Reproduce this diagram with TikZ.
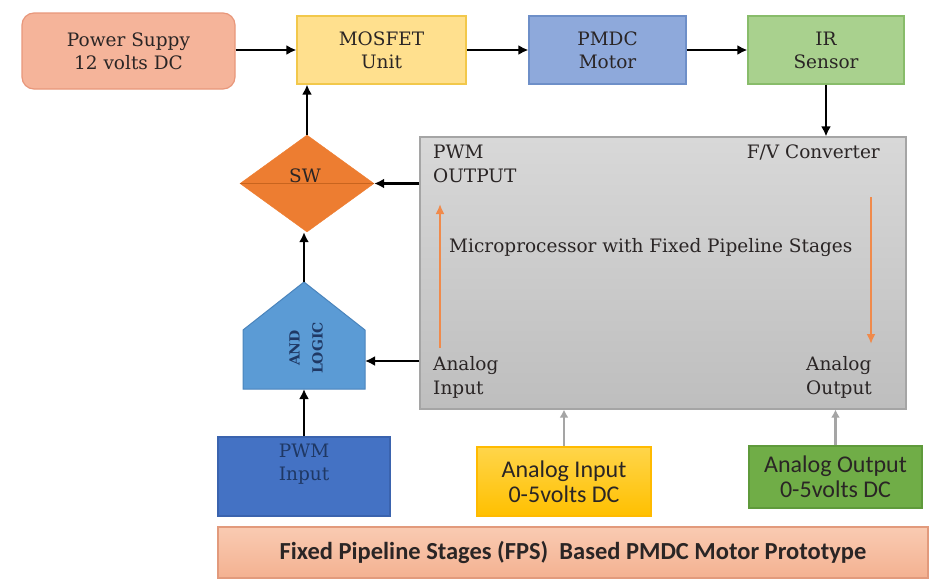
\documentclass[tikz,border=0pt]{standalone}
\usepackage{fontspec}
\setmainfont{DejaVu Serif}
\newfontfamily\calfont{Carlito}
\usepackage{xcolor}
\usepackage{tikz}
\usetikzlibrary{calc, shapes.geometric, arrows.meta}

\definecolor{psfill}{HTML}{F5B49A}
\definecolor{psline}{HTML}{E8977B}
\definecolor{mosfill}{HTML}{FFE08E}
\definecolor{mosline}{HTML}{F2C84B}
\definecolor{pmfill}{HTML}{8EA9DB}
\definecolor{pmline}{HTML}{6E8FC8}
\definecolor{irfill}{HTML}{A9D18E}
\definecolor{irline}{HTML}{88BC6A}
\definecolor{mptop}{HTML}{D8D8D8}
\definecolor{mpbot}{HTML}{BEBEBE}
\definecolor{mpline}{HTML}{A5A5A5}
\definecolor{swfill}{HTML}{ED7D31}
\definecolor{swline}{HTML}{C8641E}
\definecolor{andfill}{HTML}{5B9BD5}
\definecolor{andline}{HTML}{4A84BC}
\definecolor{pwmfill}{HTML}{4472C4}
\definecolor{pwmline}{HTML}{3A63AE}
\definecolor{aintop}{HTML}{FFD54A}
\definecolor{ainbot}{HTML}{FFC000}
\definecolor{aoutfill}{HTML}{70AD47}
\definecolor{aoutline}{HTML}{5F9A3B}
\definecolor{bantop}{HTML}{F9CBB2}
\definecolor{banbot}{HTML}{F4B191}
\definecolor{banline}{HTML}{E29A7C}
\definecolor{navy}{HTML}{1F3864}
\definecolor{inktext}{HTML}{2A2525}
\definecolor{pipe}{HTML}{F08A4B}

\tikzset{
  blockbox/.style={draw, line width=1.2pt, align=center, inner sep=0pt,
    text=inktext, font=\fontsize{18.5}{23}\selectfont},
  sigbox/.style={draw, line width=1.2pt, align=center, inner sep=0pt,
    text=inktext, font=\calfont\fontsize{24}{25}\selectfont},
  inlabel/.style={inner sep=0pt, align=left, text=inktext,
    font=\fontsize{18.5}{24}\selectfont},
  wire/.style={line width=2.6pt, -{Latex[length=10pt,width=10pt]}},
  greywire/.style={line width=2.2pt, draw=mpline, -{Latex[length=8pt,width=9pt]}},
  pipearrow/.style={line width=2.6pt, draw=pipe, -{Latex[length=10pt,width=9pt]}},
}

\begin{document}
\begin{tikzpicture}[x=1pt, y=-1pt]
  \useasboundingbox (0,0) rectangle (945,581);

  % top row
  \node[blockbox, fill=psfill, draw=psline, rounded corners=12pt,
    minimum width=213pt, minimum height=76pt] (power) at (128.5,51) {Power Suppy\\12 volts DC};
  \node[blockbox, fill=mosfill, draw=mosline,
    minimum width=169pt, minimum height=68pt] (mosfet) at (381.5,50) {MOSFET\\Unit};
  \node[blockbox, fill=pmfill, draw=pmline,
    minimum width=157pt, minimum height=68pt] (pmdc) at (607.5,50) {PMDC\\Motor};
  \node[blockbox, fill=irfill, draw=irline,
    minimum width=156pt, minimum height=68pt] (ir) at (826,50) {IR\\Sensor};

  % microprocessor
  \node[draw=mpline, line width=1.2pt, top color=mptop, bottom color=mpbot,
    minimum width=486pt, minimum height=272pt, inner sep=0pt] (mp) at (663,273) {};
  \node[inlabel, anchor=north west] (pwmout) at (433,145) {PWM\\OUTPUT};
  \node[inlabel, anchor=north east] (fvconv) at (880,145) {F/V Converter};
  \node[inlabel, anchor=north west] (mptext) at (449,238) {Microprocessor with Fixed Pipeline Stages};
  \node[inlabel, anchor=north west] (ain) at (433,356) {Analog\\Input};
  \node[inlabel, anchor=north west] (aout) at (806,356) {Analog\\Output};
  \coordinate (upfrom) at (440,348);
  \coordinate (upto) at (440,204);
  \coordinate (downfrom) at (871,197);
  \coordinate (downto) at (871,344);
  \draw[pipearrow] (upfrom) -- (upto);
  \draw[pipearrow] (downfrom) -- (downto);

  % switch and and-logic
  \node[diamond, fill=swfill, draw=swfill, minimum width=134pt, minimum height=97pt,
    inner sep=0pt, aspect=1.38] (sw) at (307,183.5) {};
  \draw[swline, line width=1pt] (sw.west) -- (sw.east);
  \node[text=inktext, font=\fontsize{18.5}{20}\selectfont] (swtext) at (305,176) {SW};

  \coordinate (andtop) at (304,282);
  \draw[fill=andfill, draw=andline, line width=1pt]
    (andtop) -- (365,330) -- (365,389) -- (243,389) -- (243,330) -- cycle;
  \node[rotate=90, align=center, text=navy, font=\fontsize{14}{23}\bfseries\selectfont]
    (andl) at (306,348) {AND\\LOGIC};
  \coordinate (andin) at (365,361);
  \coordinate (andbot) at (304,389);

  % bottom row
  \node[blockbox, fill=pwmfill, draw=pwmline, text=navy,
    minimum width=172pt, minimum height=79pt] (pwmin) at (304,476.5) {PWM\\Input\\[6pt]};
  \node[sigbox, top color=aintop, bottom color=ainbot, draw=ainbot!90!orange,
    minimum width=174pt, minimum height=69pt] (ainbox) at (564,481.5) {Analog Input\\0-5volts DC};
  \node[sigbox, fill=aoutfill, draw=aoutline,
    minimum width=173pt, minimum height=62pt] (aoutbox) at (835.5,477) {Analog Output\\0-5volts DC};
  \node[draw=banline, line width=1.2pt, top color=bantop, bottom color=banbot,
    minimum width=710pt, minimum height=51pt, inner sep=0pt, text=inktext,
    font=\calfont\bfseries\fontsize{24.5}{26}\selectfont] (banner) at (573,552.5)
    {\raisebox{4pt}{Fixed Pipeline Stages (FPS)~~Based PMDC Motor Prototype}};

  % connectors
  \draw[wire] (power.east |- mosfet.west) -- (mosfet.west);
  \draw[wire] (mosfet) -- (pmdc);
  \draw[wire] (pmdc) -- (ir);
  \draw[wire] (ir.south) -- (ir.south |- mp.north);
  \draw[wire] (mp.west |- sw.east) -- (sw.east);
  \draw[wire] (sw.north) -- (sw.north |- mosfet.south);
  \draw[wire] (andtop) -- (andtop |- sw.south);
  \draw[wire] (mp.west |- andin) -- (andin);
  \draw[wire] (pwmin.north) -- (andbot);
  \draw[greywire] (ainbox.north) -- (ainbox.north |- mp.south);
  \draw[greywire] (aoutbox.north) -- (aoutbox.north |- mp.south);
\end{tikzpicture}
\end{document}
